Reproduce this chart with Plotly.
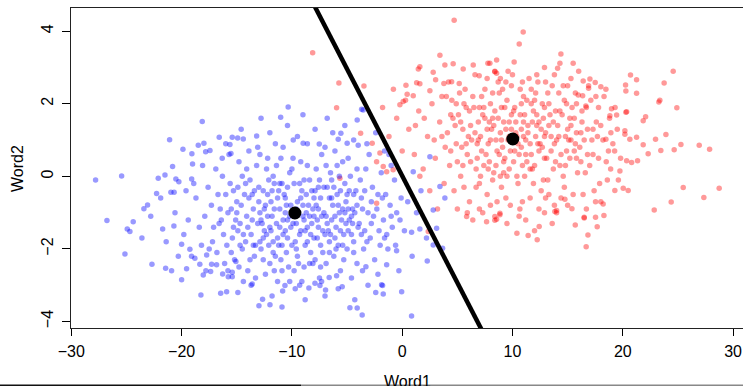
import plotly.graph_objects as go

# ---- data (read/estimated from the reference picture) ----
blue_points = [
    # outliers / sparse region
    (-10.34,1.91),(-3.68,1.85),(1.0,0.13),(2.51,0.54),(3.42,-0.28),(3.87,-0.60),(2.81,-0.93),
    (3.12,-1.43),(2.81,-1.89),(3.66,-1.98),(2.27,-2.33),(0.85,-3.85),(-0.05,-3.18),(-1.72,-3.24),
    (-1.78,-3.01),(-3.63,-3.82),(-4.08,-3.63),(-4.74,-3.62),(-13.6,-2.97),(-12.66,-3.39),(-12.99,-3.57),
    (-11.99,-3.54),(-10.84,-3.16),(-10.63,-3.01),(-8.46,-3.08),(-7.91,-2.95),(-7.31,-2.90),(-6.95,-3.13),
    (-7.46,-3.01),(-5.44,-3.04),(-6.62,-2.79),(-5.95,-2.74),(-1.87,-2.99),(-1.41,-2.44),(-3.29,-2.49),
    (-0.51,-2.05),(0.85,-1.54),(1.60,-1.45),(-26.77,-1.22),(-24.39,-1.25),(-24.93,-1.45),(-24.69,-1.52),
    (-25.14,-2.14),(-22.69,-2.42),(-21.45,-2.53),(-20.91,-2.60),(-20.0,-2.85),(-19.55,-2.55),(-20.0,-1.87),
    (-19.25,-2.01),(-18.80,-2.26),(-18.35,-2.42),(-18.04,-2.72),(-18.25,-3.27),(-21.72,-1.45),(-20.70,-1.37),
    (-16.46,-3.22),(-15.92,-3.18),(-16.28,-2.69),(-15.77,-2.77),(-15.41,-2.77),(-15.41,-2.64),(-17.73,-2.17),
    (-17.28,-2.42),(-16.83,-2.44),(-17.37,-2.62),(-15.08,-2.35),(-27.80,-0.10),(-25.44,0.01),(-23.42,-0.89),
    (-23.09,-0.79),(-22.12,-0.05),(-21.51,0.04),(-20.82,0.27),(-22.27,-0.47),(-20.97,-0.44),(-20.68,-0.44),
    (-20.52,-0.07),(-20.25,-0.15),(-19.09,-0.07),(-21.09,1.01),(-19.88,0.75),(-18.13,1.51),(-19.07,0.62),
    (-19.01,0.34),(-18.49,0.86),(-17.98,0.91),(-17.82,0.68),(-17.43,0.71),(-16.59,1.08),(-15.41,1.08),
    (-14.92,1.06),(-15.62,0.88),(-16.32,0.50),(-15.53,0.63),(-11.02,1.63),(-13.2,1.11),(-14.41,1.03),
    (-9.88,1.0),(-8.98,0.91),(-7.52,0.89),(-5.80,1.02),(-4.99,0.91),(-3.99,0.86),(-4.08,1.55),(-5.56,1.19),
    (-3.54,1.83),
    # x in [-24,-16]
    (-19.4,-1.2),(-18.7,-0.6),(-18.2,-1.9),(-17.6,-0.3),(-17.1,-1.4),(-16.8,-2.1),(-16.5,-0.9),(-16.2,-1.6),
    (-19.8,-1.6),(-18.9,-0.2),(-17.9,-1.1),(-17.3,-0.8),(-16.9,0.2),(-16.4,-1.2),(-16.1,-2.4),(-19.1,-2.2),
    (-18.4,-1.4),(-17.5,-2.0),(-16.7,-0.5),(-20.6,-1.0),(-21.4,-1.8),(-20.3,-2.2),(-19.6,-0.4),(-18.1,0.3),
    (-17.8,-2.6),(-22.8,-1.1),(-21.9,-0.6),(-23.6,-1.7),
    # x in [-16,-13]
    (-15.8,-1.0),(-15.6,-0.2),(-15.4,-1.7),(-15.2,-2.3),(-15.0,-0.7),(-14.8,0.4),(-14.7,-1.3),(-14.5,-2.0),
    (-14.3,-0.5),(-14.1,-1.1),(-14.0,-2.6),(-13.8,-0.1),(-13.7,-1.6),(-13.5,-0.9),(-13.4,-2.2),(-13.2,0.3),
    (-13.1,-1.3),(-15.9,-1.9),(-15.3,-0.4),(-14.9,-1.5),(-14.6,-0.8),(-14.2,-1.8),(-13.9,-0.6),(-13.6,-1.2),
    (-13.3,-2.8),(-15.7,0.6),(-14.4,-2.9),(-13.0,-0.3),(-15.1,-1.2),(-14.8,-2.5),(-13.9,0.7),(-13.3,-1.9),
    (-15.5,-0.9),(-14.2,-0.2),
    # x in [-13,-10]
    (-12.9,-1.0),(-12.8,-2.0),(-12.6,-0.4),(-12.5,-1.5),(-12.3,0.2),(-12.2,-1.1),(-12.0,-2.4),(-11.9,-0.7),
    (-11.7,-1.8),(-11.6,-0.2),(-11.4,-1.3),(-11.3,-2.9),(-11.1,-0.9),(-11.0,0.5),(-10.8,-1.6),(-10.7,-0.5),
    (-10.5,-2.1),(-10.4,-1.2),(-10.2,0.1),(-10.1,-0.8),(-12.7,-1.3),(-12.4,-2.7),(-12.1,-0.1),(-11.8,-1.1),
    (-11.5,-2.2),(-11.2,-0.4),(-10.9,-1.9),(-10.6,-1.0),(-10.3,-2.5),(-12.9,0.6),(-12.4,-0.8),(-11.9,-1.5),
    (-11.4,0.3),(-10.9,-0.2),(-10.4,-1.7),(-12.1,-1.9),(-11.6,-2.6),(-11.1,-1.4),(-10.6,-0.6),(-10.2,-2.9),
    (-12.6,-1.7),(-11.3,-0.6),(-10.8,0.8),(-10.1,-1.4),(-12.2,-0.5),(-11.7,0.0),(-11.0,-2.3),
    # x in [-10,-7]
    (-9.9,-1.3),(-9.8,-0.2),(-9.6,-2.0),(-9.5,-0.7),(-9.3,-1.6),(-9.2,0.4),(-9.0,-1.1),(-8.9,-2.5),
    (-8.7,-0.5),(-8.6,-1.4),(-8.4,-0.1),(-8.3,-2.1),(-8.1,-0.9),(-8.0,-1.7),(-7.8,0.2),(-7.7,-1.2),
    (-7.5,-2.8),(-7.4,-0.6),(-7.2,-1.5),(-7.1,-0.3),(-9.7,-1.8),(-9.4,-1.0),(-9.1,-0.4),(-8.8,-1.9),
    (-8.5,-0.8),(-8.2,-1.3),(-7.9,-2.3),(-7.6,-0.9),(-7.3,0.6),(-9.9,0.5),(-9.4,-2.4),(-8.9,-0.1),
    (-8.4,-1.1),(-7.9,-0.4),(-7.4,-1.9),(-9.6,-0.9),(-9.1,-2.9),(-8.6,0.3),(-8.1,-2.4),(-7.6,-1.4),
    (-7.1,-1.0),(-9.2,-1.5),(-8.7,-1.0),(-8.0,-0.6),(-7.5,-0.1),
    # x in [-7,-4]
    (-6.9,-1.1),(-6.8,-0.3),(-6.6,-1.8),(-6.5,0.1),(-6.3,-0.8),(-6.2,-2.2),(-6.0,-1.4),(-5.9,-0.5),
    (-5.7,-1.0),(-5.6,-2.6),(-5.4,0.4),(-5.3,-1.6),(-5.1,-0.7),(-5.0,-2.0),(-4.8,-1.2),(-4.7,0.0),
    (-4.5,-0.9),(-4.4,-1.8),(-4.2,-0.4),(-4.1,-2.4),(-6.7,-1.5),(-6.4,-0.1),(-6.1,0.7),(-5.8,-1.9),
    (-5.5,-1.2),(-5.2,-0.2),(-4.9,-1.5),(-4.6,-2.8),(-4.3,-1.0),(-6.9,-2.4),(-6.4,-1.2),(-5.9,0.3),
    (-5.4,-0.9),(-4.9,0.5),(-4.4,-0.5),(-6.6,-0.6),(-6.1,-1.7),(-5.6,-0.4),(-5.1,-1.3),(-4.6,-1.6),
    (-4.1,-0.8),
    # x in [-4,2]
    (-3.9,-1.3),(-3.7,-0.6),(-3.5,-2.0),(-3.3,0.2),(-3.1,-1.0),(-2.9,-1.7),(-2.7,-0.3),(-2.5,-2.3),
    (-2.3,-0.9),(-2.1,-1.5),(-1.9,0.1),(-1.7,-1.2),(-1.5,-0.5),(-1.3,-2.0),(-1.1,-0.8),(-0.9,-1.4),
    (-0.7,-0.1),(-0.5,-1.0),(-0.3,-2.6),(-0.1,-0.6),(-3.8,-0.1),(-3.4,-1.5),(-3.0,0.6),(-2.6,-1.1),
    (-2.2,-2.7),(-1.8,-0.6),(-1.4,-1.6),(-1.0,0.3),(-0.6,-1.9),(-0.2,-1.2),(-3.6,-2.6),(-2.8,-0.7),
    (-2.0,-1.9),(-1.2,0.6),(0.2,-1.5),(0.5,-0.7),(0.9,-2.2),(1.3,-1.0),(1.7,-0.4),(2.2,-1.7),
    # upper band
    (-16.0,0.9),(-14.6,1.3),(-13.1,0.8),(-12.0,1.2),(-11.5,0.9),(-10.4,1.4),(-9.5,1.1),(-8.6,0.9),
    (-7.9,1.3),(-7.0,0.8),(-6.3,1.2),(-5.2,1.4),(-4.4,1.0),(-3.2,0.9),(-2.4,1.2),(-1.6,0.7),
    (-12.8,1.6),(-9.0,1.7),(-6.8,1.6),
    # lower band
    (-14.9,-3.2),(-13.7,-3.0),(-11.8,-3.3),(-9.7,-3.1),(-8.8,-3.4),(-7.0,-3.3),(-5.8,-3.1),(-4.3,-3.4),
    (-3.1,-3.0),(-2.4,-3.2),(-10.9,-3.6),(-9.3,-3.0),
    # dense core, extra
    (-15.3,-1.4),(-14.9,-0.3),(-14.4,-1.6),(-13.8,-2.3),(-13.4,-0.4),(-12.9,-1.8),(-12.5,-0.9),(-12.0,-1.4),
    (-11.6,-0.9),(-11.2,-1.9),(-10.8,-1.2),(-10.4,-0.3),(-10.0,-1.9),(-9.6,-1.3),(-9.2,-0.6),(-8.8,-1.5),
    (-8.4,-2.4),(-8.0,-1.1),(-7.6,-0.3),(-7.2,-2.1),(-6.8,-1.3),(-6.4,-0.6),(-6.0,-2.0),(-5.6,-1.5),
    (-5.2,-1.0),(-4.8,-0.4),(-4.4,-2.1),(-4.0,-1.4),(-3.6,-0.9),(-3.2,-1.8),
    (-16.6,-1.3),(-16.0,-0.5),(-15.5,-2.1),(-15.0,-1.0),(-14.5,0.0),(-14.0,-1.4),(-13.5,-1.9),(-13.0,-0.7),
    (-12.6,-2.3),(-12.2,0.5),(-11.8,-0.4),(-11.3,-1.7),(-10.9,-2.6),(-10.5,-0.8),(-10.0,0.2),(-9.5,-2.2),
    (-9.0,-0.8),(-8.6,-1.8),(-8.2,-0.4),(-7.7,-1.7),(-7.3,-1.1),(-6.9,0.3),(-6.5,-1.6),(-6.1,-1.1),
    (-5.7,0.0),(-5.3,-2.3),(-4.9,-0.9),(-4.5,-1.3),(-4.1,0.2),(-3.7,-1.6),
    (-17.2,-1.8),(-16.3,0.0),(-15.8,-2.6),(-14.7,-1.9),(-14.1,0.2),(-13.6,-0.5),(-12.8,-1.2),(-12.3,-1.6),
    (-11.7,-2.1),(-11.1,-0.2),(-10.6,-1.5),(-10.2,-1.1),(-9.8,-2.6),(-9.3,-0.2),(-8.9,-1.2),(-8.3,-1.6),
    (-7.8,-0.8),(-7.4,-2.5),(-7.0,-1.6),(-6.6,-2.1),(-6.2,-0.3),(-5.8,-0.8),(-5.4,-1.9),(-5.0,-0.5),
    (-4.6,-1.1),(-3.4,-0.4),(-2.8,-1.3),(-2.2,-0.5),(-1.6,-1.7),(-1.0,-1.1),
]

red_points = [
    # outliers / sparse region
    (4.71,4.30),(-8.12,3.41),(-5.74,2.57),(-3.47,2.49),(-5.95,1.89),(3.42,3.34),(1.6,3.02),(1.46,2.96),
    (2.81,2.87),(3.87,3.07),(4.62,3.10),(6.44,3.07),(7.77,3.12),(5.53,2.96),(6.98,2.77),(3.03,2.66),
    (4.48,2.61),(5.17,2.56),(3.78,2.56),(0.34,2.51),(1.31,2.58),(1.6,2.55),(2.51,2.36),(0.45,2.26),
    (1.0,2.22),(0.09,2.06),(-0.21,1.97),(-1.78,1.90),(10.97,3.98),(10.61,3.65),(14.39,3.37),(14.30,3.12),
    (14.09,2.98),(15.50,3.12),(10.15,3.15),(8.56,3.21),(7.95,3.12),(8.40,2.88),(8.56,2.84),(24.57,2.90),
    (20.7,2.79),(21.25,2.66),(20.25,2.52),(20.28,2.35),(21.25,2.29),(23.75,2.57),(23.36,2.10),(23.27,2.05),
    (24.9,1.89),(20.28,1.77),(18.98,1.86),(18.47,2.40),(18.01,2.47),(17.50,2.59),(17.02,2.68),(16.41,2.63),
    (16.90,2.43),(17.56,2.20),(16.36,2.22),(16.65,1.94),(15.96,2.24),(22.07,1.64),(21.85,1.53),(20.19,1.26),
    (20.19,1.16),(23.91,1.15),(21.25,1.08),(20.64,1.02),(22.97,1.02),(25.27,0.88),(26.93,0.86),(27.87,0.75),
    (21.85,0.87),(23.45,0.71),(24.66,0.73),(22.30,0.62),(21.34,0.43),(20.80,0.38),(20.35,0.43),(19.74,0.15),
    (19.26,0.70),(18.47,1.02),(18.92,1.20),(18.83,1.67),(19.44,1.69),(20.35,1.78),(25.48,-0.31),(28.74,-0.33),
    (27.35,-0.58),(24.39,-0.71),(22.85,-0.93),(20.04,-0.33),(20.49,-0.39),(19.28,-0.39),(18.22,-0.76),
    (17.53,-0.70),(18.01,-0.70),(18.29,-1.08),(17.53,-1.13),(16.50,-1.13),(15.39,-0.89),(14.75,-0.63),
    (13.84,-0.97),(14.0,-0.94),(10.67,-0.90),(8.86,-1.02),(8.40,-1.11),(8.56,-1.18),(8.40,-1.21),(8.86,-1.06),
    (10.40,-1.57),(11.42,-1.63),(12.24,-1.75),(12.42,-1.38),(15.69,-1.34),(16.5,-1.15),(17.68,-1.39),
    (16.84,-1.62),(16.68,-1.94),(-2.72,0.91),(-2.02,0.64),(-2.32,0.40),(-3.77,1.19),(-1.72,0.27),(-1.41,0.13),
    (-0.82,0.18),(-5.65,-0.05),(-2.32,-0.74),(2.36,-1.52),(5.84,-1.11),(7.65,-1.25),
    # x in [-1,4]
    (0.6,1.3),(1.1,0.6),(1.5,1.8),(1.9,0.2),(2.3,1.1),(2.7,2.0),(3.0,0.5),(3.4,1.5),(3.8,-0.2),(0.3,2.1),
    (1.2,1.4),(2.0,1.6),(2.9,1.0),(3.6,2.2),(3.9,0.8),(-0.5,1.6),(-1.2,1.1),(-0.8,2.4),(0.0,0.7),(2.5,-0.4),
    (3.2,-0.9),(1.6,0.0),
    # x in [4,7]
    (4.1,1.2),(4.3,0.3),(4.5,2.1),(4.7,-0.4),(4.9,0.9),(5.1,1.7),(5.3,0.0),(5.5,1.3),(5.7,2.4),(5.9,0.6),
    (6.1,-0.7),(6.3,1.0),(6.5,1.9),(6.7,0.2),(6.9,1.5),(4.2,2.6),(4.6,1.6),(5.0,-0.9),(5.4,0.8),(5.8,1.9),
    (6.2,0.4),(6.6,2.8),(7.0,-0.2),(4.4,0.7),(4.8,1.4),(5.2,2.3),(5.6,-0.3),(6.0,1.1),(6.4,-1.2),(6.8,0.9),
    # x in [7,10]
    (7.1,1.1),(7.2,2.2),(7.4,0.3),(7.5,1.6),(7.7,-0.5),(7.8,0.9),(8.0,2.0),(8.1,1.3),(8.3,0.1),(8.4,1.8),
    (8.6,0.7),(8.7,2.6),(8.9,1.2),(9.0,-0.3),(9.2,1.5),(9.3,0.5),(9.5,2.1),(9.6,1.0),(9.8,-0.8),(9.9,1.7),
    (7.3,-1.0),(7.6,0.6),(7.9,1.5),(8.2,-0.1),(8.5,1.0),(8.8,2.3),(9.1,0.8),(9.4,1.3),(9.7,0.2),(7.4,1.9),
    (7.9,0.4),(8.4,2.9),(8.9,0.0),(9.4,-0.6),(9.9,2.5),(7.1,0.0),(8.2,1.6),(9.0,1.9),(9.7,1.1),(8.6,-0.7),
    (7.7,2.7),(9.2,0.1),
    # x in [10,13]
    (10.1,0.4),(10.2,1.9),(10.4,1.1),(10.5,-0.2),(10.7,2.4),(10.8,0.8),(11.0,1.5),(11.1,0.0),(11.3,2.1),
    (11.4,1.2),(11.6,-0.6),(11.7,0.6),(11.9,1.8),(12.0,0.3),(12.2,1.4),(12.3,2.6),(12.5,0.9),(12.6,-0.4),
    (12.8,1.6),(12.9,0.5),(10.3,1.5),(10.6,0.6),(10.9,-0.7),(11.2,1.0),(11.5,2.7),(11.8,0.2),(12.1,1.1),
    (12.4,-0.9),(12.7,2.0),(10.0,2.8),(10.6,-1.1),(11.1,1.7),(11.6,0.9),(12.1,2.3),(12.6,1.3),(10.4,0.0),
    (11.0,2.2),(11.9,-0.2),(12.4,0.7),(12.9,1.9),(10.8,1.3),
    # x in [13,16]
    (13.0,1.2),(13.2,-0.1),(13.3,2.0),(13.5,0.7),(13.7,1.5),(13.8,-0.8),(14.0,1.0),(14.2,2.3),(14.3,0.3),
    (14.5,1.7),(14.7,-0.3),(14.8,1.1),(15.0,2.5),(15.2,0.5),(15.3,1.4),(15.5,-0.5),(15.7,0.9),(15.8,2.0),
    (13.4,1.7),(13.9,0.4),(14.4,-0.6),(14.9,0.7),(15.4,1.9),(15.9,0.1),(13.1,0.5),(13.6,2.5),(14.1,1.4),
    (14.6,0.0),(15.1,1.0),(15.6,1.6),(13.3,-0.5),(14.0,-1.0),(14.9,2.0),(15.8,1.2),
    # x in [16,20]
    (16.1,0.8),(16.3,1.8),(16.6,0.1),(16.8,1.3),(17.1,2.1),(17.3,0.6),(17.6,1.5),(17.9,-0.2),(18.2,1.0),
    (18.5,0.4),(18.8,1.6),(19.1,0.9),(19.5,1.3),(19.8,0.5),(16.4,-0.5),(16.9,2.5),(17.4,-0.4),(17.8,1.9),
    (18.3,2.2),(18.6,-0.1),(19.3,1.9),(16.2,1.2),(17.0,0.3),(17.7,1.1),(18.9,0.2),(16.7,-0.9),(19.6,-0.1),
    # upper / lower bands
    (8.9,2.7),(9.6,2.9),(10.9,2.6),(11.7,2.4),(12.2,2.8),(13.0,2.6),(13.8,2.8),(14.6,2.5),(15.3,2.7),
    (16.0,2.9),(12.9,3.0),(9.1,2.4),(5.9,-1.0),(7.0,-0.9),(8.0,-0.8),(9.5,-1.3),(11.2,-1.2),(12.9,-1.0),
    (13.6,-1.3),(15.0,-0.8),(12.0,-1.5),
    # dense core, extra
    (4.4,1.7),(5.0,0.4),(5.6,2.0),(6.2,1.4),(6.8,0.5),(7.3,1.7),(7.8,0.2),(8.3,1.4),(8.8,0.6),(9.3,1.9),
    (9.8,0.7),(10.3,1.2),(10.8,2.0),(11.3,0.4),(11.8,1.5),(12.3,0.9),(12.8,-0.1),(13.3,1.4),(13.8,0.9),
    (14.3,1.8),(14.8,0.3),(15.3,1.0),(15.8,0.5),(16.3,1.5),(16.8,0.6),(17.3,1.3),(17.8,0.5),(5.3,1.5),
    (6.6,1.2),(7.5,2.4),
    (4.9,2.0),(5.5,0.3),(6.1,1.8),(6.7,-0.3),(7.2,0.7),(7.7,1.3),(8.2,2.3),(8.7,1.6),(9.2,0.4),(9.7,1.5),
    (10.2,0.7),(10.7,1.7),(11.2,0.6),(11.7,2.0),(12.2,1.7),(12.7,0.8),(13.2,2.3),(13.7,0.2),(14.2,1.1),
    (14.7,2.1),(15.2,1.6),(15.7,2.3),(16.2,0.4),(16.7,1.9),(17.2,1.0),(9.5,0.0),(10.9,0.3),(12.0,2.1),
    (13.5,1.1),(11.4,1.4),
    (3.6,1.1),(4.0,2.2),(5.8,0.9),(6.4,2.2),(7.0,1.9),(8.5,0.3),(9.0,1.0),(9.9,1.3),(10.5,0.9),(11.0,1.1),
    (11.6,0.2),(12.4,1.5),(12.9,1.1),(13.9,1.8),(14.4,0.6),(15.0,1.3),(15.6,0.7),(16.5,1.0),(18.0,1.4),
    (18.7,0.7),(10.1,1.8),(8.0,1.0),(6.9,1.0),(9.4,2.6),(13.0,-0.6),
]

blue_x = [p[0] for p in blue_points]
blue_y = [p[1] for p in blue_points]
red_x = [p[0] for p in red_points]
red_y = [p[1] for p in red_points]

centroid_x = [-9.73, 10.03]
centroid_y = [-1.01, 1.03]

boundary_x = [-9.0, 9.0]
boundary_y = [5.315, -5.287]

x_ticks = [-30, -20, -10, 0, 10, 20, 30]
y_ticks = [-4, -2, 0, 2, 4]

FONT = "Liberation Sans, Arial, Helvetica, sans-serif"

fig = go.Figure()
fig.add_trace(go.Scatter(x=red_x, y=red_y, mode="markers",
                         marker=dict(size=5.5, color="rgba(255,0,0,0.4)", line=dict(width=0)),
                         hoverinfo="skip"))
fig.add_trace(go.Scatter(x=blue_x, y=blue_y, mode="markers",
                         marker=dict(size=5.5, color="rgba(0,0,255,0.4)", line=dict(width=0)),
                         hoverinfo="skip"))
fig.add_trace(go.Scatter(x=boundary_x, y=boundary_y, mode="lines",
                         line=dict(color="black", width=4.5), hoverinfo="skip"))
fig.add_trace(go.Scatter(x=centroid_x, y=centroid_y, mode="markers",
                         marker=dict(size=13, color="black"), hoverinfo="skip"))

fig.update_layout(
    width=743, height=386,
    margin=dict(l=71, r=0, t=8, b=58, autoexpand=False),
    paper_bgcolor="white", plot_bgcolor="white",
    showlegend=False,
    font=dict(family=FONT, size=16, color="black"),
    xaxis=dict(range=[-30.03, 30.9], tickvals=x_ticks, showgrid=False, zeroline=False,
               showline=True, mirror=True, linecolor="#222", linewidth=1,
               ticks="outside", ticklen=7, tickcolor="black", tickwidth=1, automargin=False,
               tickfont=dict(size=16, family=FONT, color="black"), ticklabelstandoff=2),
    yaxis=dict(range=[-4.18, 4.64], tickvals=y_ticks, showgrid=False, zeroline=False,
               showline=True, mirror=False, linecolor="#222", linewidth=1,
               ticks="outside", ticklen=8, tickcolor="black", tickwidth=1, tickangle=-90,
               automargin=False,
               tickfont=dict(size=16, family=FONT, color="black"), ticklabelstandoff=3),
    annotations=[
        dict(text="Word1", x=0.5, y=-0.168, xref="paper", yref="paper", showarrow=False,
             xanchor="center", yanchor="middle", font=dict(size=16, family=FONT, color="black")),
        dict(text="Word2", x=-0.0804, y=0.5, xref="paper", yref="paper", showarrow=False,
             textangle=-90, xanchor="center", yanchor="middle",
             font=dict(size=16, family=FONT, color="black")),
    ],
    shapes=[
        dict(type="line", xref="paper", yref="paper", x0=-0.1057, x1=0.3423, y0=-0.18, y1=-0.18,
             line=dict(color="#111", width=2)),
        dict(type="line", xref="paper", yref="paper", x0=0.3423, x1=1.0, y0=-0.18, y1=-0.18,
             line=dict(color="#888", width=2)),
    ],
)

fig.write_html("out.html", config={"displayModeBar": False},
               post_script="document.body.style.margin='0';document.body.style.overflow='hidden';")
